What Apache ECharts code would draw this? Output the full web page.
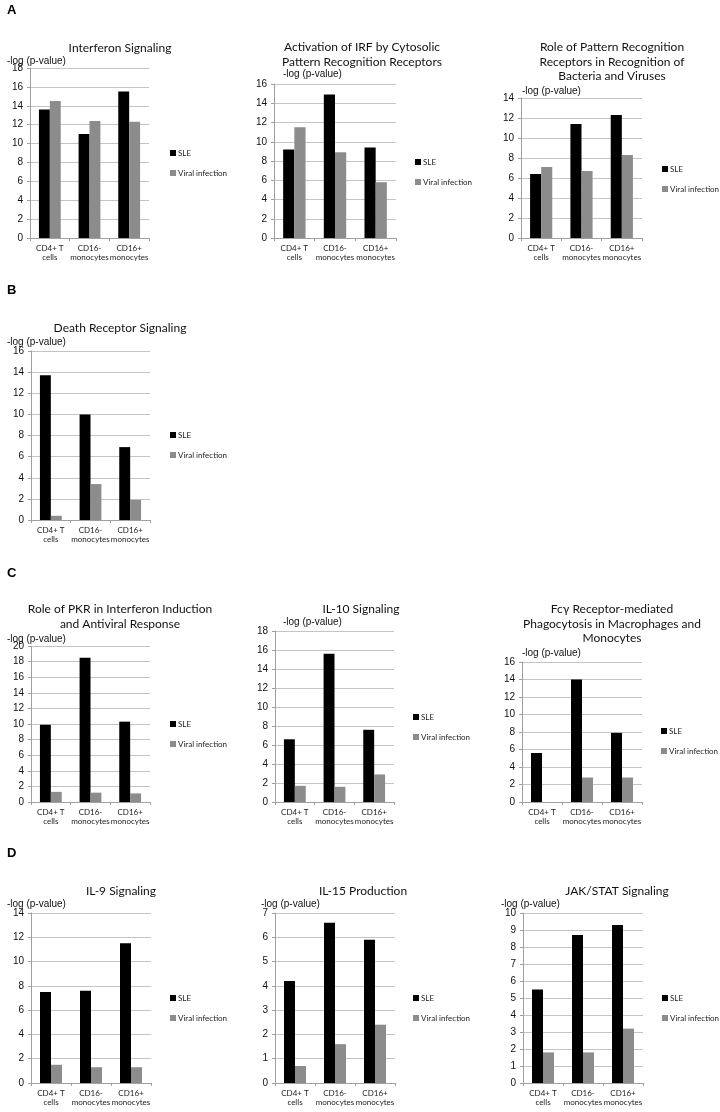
<!DOCTYPE html>
<html><head><meta charset="utf-8">
<script src="https://cdn.jsdelivr.net/npm/echarts@6/dist/echarts.min.js"></script>
<style>html,body{margin:0;padding:0;background:#fff}#c{width:720px;height:1112px}</style>
</head><body><div id="c"></div>
<script>
// ---------- data ----------
const categories = ['CD4+ T\ncells', 'CD16-\nmonocytes', 'CD16+\nmonocytes'];
const seriesNames = ['SLE', 'Viral infection'];
const yAxisName = '-log (p-value)';
const panelLetters = ['A', 'B', 'C', 'D'];
const panelTitles = [
  'Interferon Signaling',
  'Activation of IRF by Cytosolic\nPattern Recognition Receptors',
  'Role of Pattern Recognition\nReceptors in Recognition of\nBacteria and Viruses',
  'Death Receptor Signaling',
  'Role of PKR in Interferon Induction\nand Antiviral Response',
  'IL-10 Signaling',
  'Fcγ Receptor-mediated\nPhagocytosis in Macrophages and\nMonocytes',
  'IL-9 Signaling',
  'IL-15 Production',
  'JAK/STAT Signaling'
];
const sleInterferon = [13.6, 11.0, 15.5];
const viralInterferon = [14.5, 12.4, 12.3];
const sleIRF = [9.2, 14.9, 9.4];
const viralIRF = [11.5, 8.9, 5.8];
const slePRR = [6.4, 11.4, 12.3];
const viralPRR = [7.1, 6.7, 8.3];
const sleDeath = [13.7, 10.0, 6.9];
const viralDeath = [0.4, 3.4, 1.9];
const slePKR = [9.9, 18.5, 10.3];
const viralPKR = [1.3, 1.2, 1.1];
const sleIL10 = [6.6, 15.6, 7.6];
const viralIL10 = [1.7, 1.6, 2.9];
const sleFcg = [5.6, 14.0, 7.9];
const viralFcg = [0, 2.8, 2.8];
const sleIL9 = [7.5, 7.6, 11.5];
const viralIL9 = [1.5, 1.3, 1.3];
const sleIL15 = [4.2, 6.6, 5.9];
const viralIL15 = [0.7, 1.6, 2.4];
const sleJAK = [5.5, 8.7, 9.3];
const viralJAK = [1.8, 1.8, 3.2];
const yAxisMax = [18, 16, 14, 16, 20, 18, 16, 14, 7, 10];
const yAxisStep = [2, 2, 2, 2, 2, 2, 2, 2, 1, 1];

const sleData = [sleInterferon, sleIRF, slePRR, sleDeath, slePKR, sleIL10, sleFcg, sleIL9, sleIL15, sleJAK];
const viralData = [viralInterferon, viralIRF, viralPRR, viralDeath, viralPKR, viralIL10, viralFcg, viralIL9, viralIL15, viralJAK];

// ---------- layout (pixels) ----------
const grids = [
  [30, 68, 119, 170], [274, 84, 122, 154], [521, 98, 121, 140],
  [31, 351, 119, 169],
  [31, 646, 119, 156], [275, 631, 119, 171], [522, 662, 120, 140],
  [31, 913, 120, 170], [275, 913, 120, 170], [523, 913, 120, 170]
];
const titlePos = [[120, 41], [362, 40], [612, 40], [120, 321], [120, 602], [361, 602], [612, 602], [121, 884], [363, 884], [617, 884]];
const namePos = [[7, 61], [283, 74], [522, 91], [7, 342], [7, 639], [283, 622], [522, 653], [7, 904], [261, 904], [501, 904]];
const legendPos = [[170, 148], [415, 157], [662, 164], [170, 430], [170, 719], [413, 712], [661, 726], [170, 993], [413, 993], [662, 993]];
const letterPos = [[7, 10], [7, 290], [7, 573], [7, 853]];

const SLE_COLOR = '#000000';
const VIRAL_COLOR = '#8c8c8c';
const TITLE_FONT = 'Lato, "Open Sans", sans-serif';
const NUM_FONT = '"Liberation Sans", Arial, sans-serif';

const option = {
  animation: false,
  backgroundColor: '#ffffff',
  title: [], grid: [], xAxis: [], yAxis: [], legend: [], series: []
};

letterPos.forEach((p, i) => {
  option.title.push({
    text: panelLetters[i], left: p[0], top: p[1], padding: 0,
    textVerticalAlign: 'middle',
    textStyle: { fontFamily: NUM_FONT, fontWeight: 'bold', fontSize: 13, color: '#000' }
  });
});

panelTitles.forEach((t, i) => {
  option.title.push({
    text: t, left: titlePos[i][0], top: titlePos[i][1], padding: 0,
    textAlign: 'center',
    textStyle: { fontFamily: TITLE_FONT, fontWeight: 'normal', fontSize: 12, lineHeight: 14.5, color: '#111' }
  });
  option.title.push({
    text: yAxisName, left: namePos[i][0], top: namePos[i][1], padding: 0,
    textVerticalAlign: 'middle',
    textStyle: { fontFamily: NUM_FONT, fontWeight: 'normal', fontSize: 10, color: '#111' }
  });
  const g = grids[i];
  option.grid.push({ left: g[0], top: g[1], width: g[2], height: g[3], containLabel: false });
  option.xAxis.push({
    type: 'category', gridIndex: i, data: categories, boundaryGap: true,
    axisLine: { show: true, lineStyle: { color: '#a0a0a0', width: 1 } },
    axisTick: { show: true, alignWithLabel: false, length: 3, lineStyle: { color: '#a0a0a0' } },
    axisLabel: { interval: 0, margin: 6, fontFamily: TITLE_FONT, fontSize: 8, lineHeight: 9, color: '#222' },
    splitLine: { show: false }
  });
  option.yAxis.push({
    type: 'value', gridIndex: i, min: 0, max: yAxisMax[i], interval: yAxisStep[i],
    axisLine: { show: true, lineStyle: { color: '#a0a0a0', width: 1 } },
    axisTick: { show: true, length: 3, lineStyle: { color: '#a0a0a0' } },
    axisLabel: { margin: 7, fontFamily: NUM_FONT, fontSize: 10, color: '#111' },
    splitLine: { show: true, lineStyle: { color: '#c4c4c4', width: 1 } }
  });
  option.legend.push({
    orient: 'vertical', left: legendPos[i][0], top: legendPos[i][1], padding: 0,
    itemWidth: 6, itemHeight: 6, itemGap: 10, icon: 'rect',
    data: seriesNames, selectedMode: false,
    textStyle: { fontFamily: TITLE_FONT, fontSize: 8, lineHeight: 10, color: '#222', padding: [0, 0, 0, -3] }
  });
  option.series.push({
    name: seriesNames[0], type: 'bar', xAxisIndex: i, yAxisIndex: i,
    data: sleData[i], barGap: '0%', barCategoryGap: '45%',
    itemStyle: { color: SLE_COLOR }
  });
  option.series.push({
    name: seriesNames[1], type: 'bar', xAxisIndex: i, yAxisIndex: i,
    data: viralData[i], barGap: '0%', barCategoryGap: '45%',
    itemStyle: { color: VIRAL_COLOR }
  });
});

const chart = echarts.init(document.getElementById('c'), null, { renderer: 'canvas' });
chart.setOption(option);
</script>
</body></html>
